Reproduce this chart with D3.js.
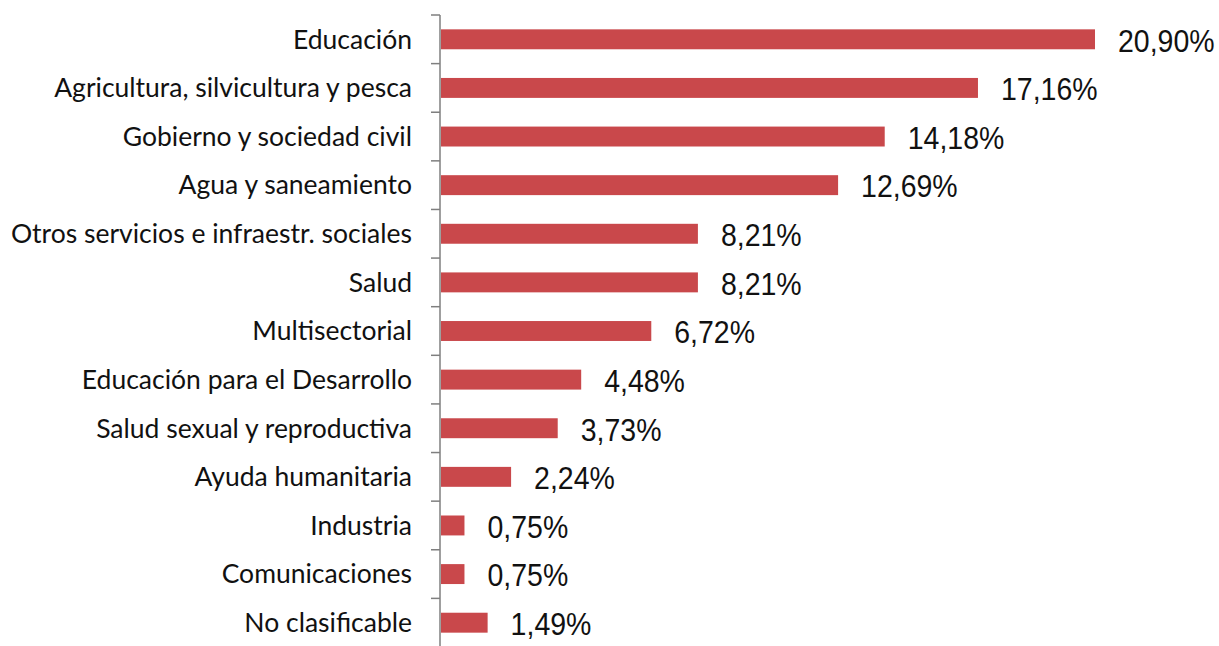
<!DOCTYPE html>
<html>
<head>
<meta charset="utf-8">
<script src="https://cdn.jsdelivr.net/npm/d3@7"></script>
<style>
  body { margin: 0; background: #fff; }
</style>
</head>
<body>
<div id="chart"></div>
<script>
// sectors and their share (%)
var categories = ["Educación", "Agricultura, silvicultura y pesca", "Gobierno y sociedad civil",
  "Agua y saneamiento", "Otros servicios e infraestr. sociales", "Salud", "Multisectorial",
  "Educación para el Desarrollo", "Salud sexual y reproductiva", "Ayuda humanitaria",
  "Industria", "Comunicaciones", "No clasificable"];
var values = [20.90, 17.16, 14.18, 12.69, 8.21, 8.21, 6.72, 4.48, 3.73, 2.24, 0.75, 0.75, 1.49];
var valueLabels = ["20,90%", "17,16%", "14,18%", "12,69%", "8,21%", "8,21%", "6,72%",
  "4,48%", "3,73%", "2,24%", "0,75%", "0,75%", "1,49%"];

var width = 1219, height = 646;
var axisX = 440;

var svg = d3.select("#chart").append("svg")
    .attr("width", width)
    .attr("height", height);

var x = d3.scaleLinear()
    .domain([0, d3.max(values)])
    .range([axisX + 1, 1095]);

var y = d3.scaleBand()
    .domain(categories)
    .range([15, 647])
    .paddingInner(0.59)
    .paddingOuter(0.295);

var data = categories.map(function(c, i) {
  return { name: c, value: values[i], label: valueLabels[i] };
});

// bars
svg.append("g").selectAll("rect")
    .data(data)
    .enter()
    .append("rect")
    .attr("x", x(0))
    .attr("y", function(d) { return y(d.name); })
    .attr("width", function(d) { return x(d.value) - x(0); })
    .attr("height", y.bandwidth())
    .style("fill", "#c9484b");

// axis line + ticks between categories
var axis = svg.append("g").attr("stroke", "#7f7f7f").attr("stroke-width", 1.5);
axis.append("line")
    .attr("x1", axisX).attr("x2", axisX)
    .attr("y1", y.range()[0]).attr("y2", y.range()[1]);
var tickYs = d3.range(categories.length + 1).map(function(i) { return y.range()[0] + i * y.step(); });
axis.selectAll(".tick")
    .data(tickYs)
    .enter()
    .append("line")
    .attr("x1", axisX - 9).attr("x2", axisX)
    .attr("y1", function(d) { return d; })
    .attr("y2", function(d) { return d; });

// category labels
svg.append("g").selectAll("text")
    .data(data)
    .enter()
    .append("text")
    .text(function(d) { return d.name; })
    .attr("x", 412)
    .attr("y", function(d) { return y(d.name) + y.bandwidth() / 2; })
    .attr("text-anchor", "end")
    .attr("dy", "0.35em")
    .attr("font-family", "Lato, 'Open Sans', sans-serif")
    .attr("font-size", "26.5px")
    .attr("fill", "#111");

// value labels (slightly taller than wide in the source)
svg.append("g").selectAll("g")
    .data(data)
    .enter()
    .append("g")
    .attr("transform", function(d) { return "translate(" + (x(d.value) + 23) + "," + (y(d.name) + y.bandwidth() / 2 + 1) + ") scale(1,1.1)"; })
    .append("text")
    .text(function(d) { return d.label; })
    .attr("dy", "0.36em")
    .attr("font-family", "'Liberation Sans', Arial, sans-serif")
    .attr("font-size", "28.5px")
    .attr("fill", "#111");
</script>
</body>
</html>
